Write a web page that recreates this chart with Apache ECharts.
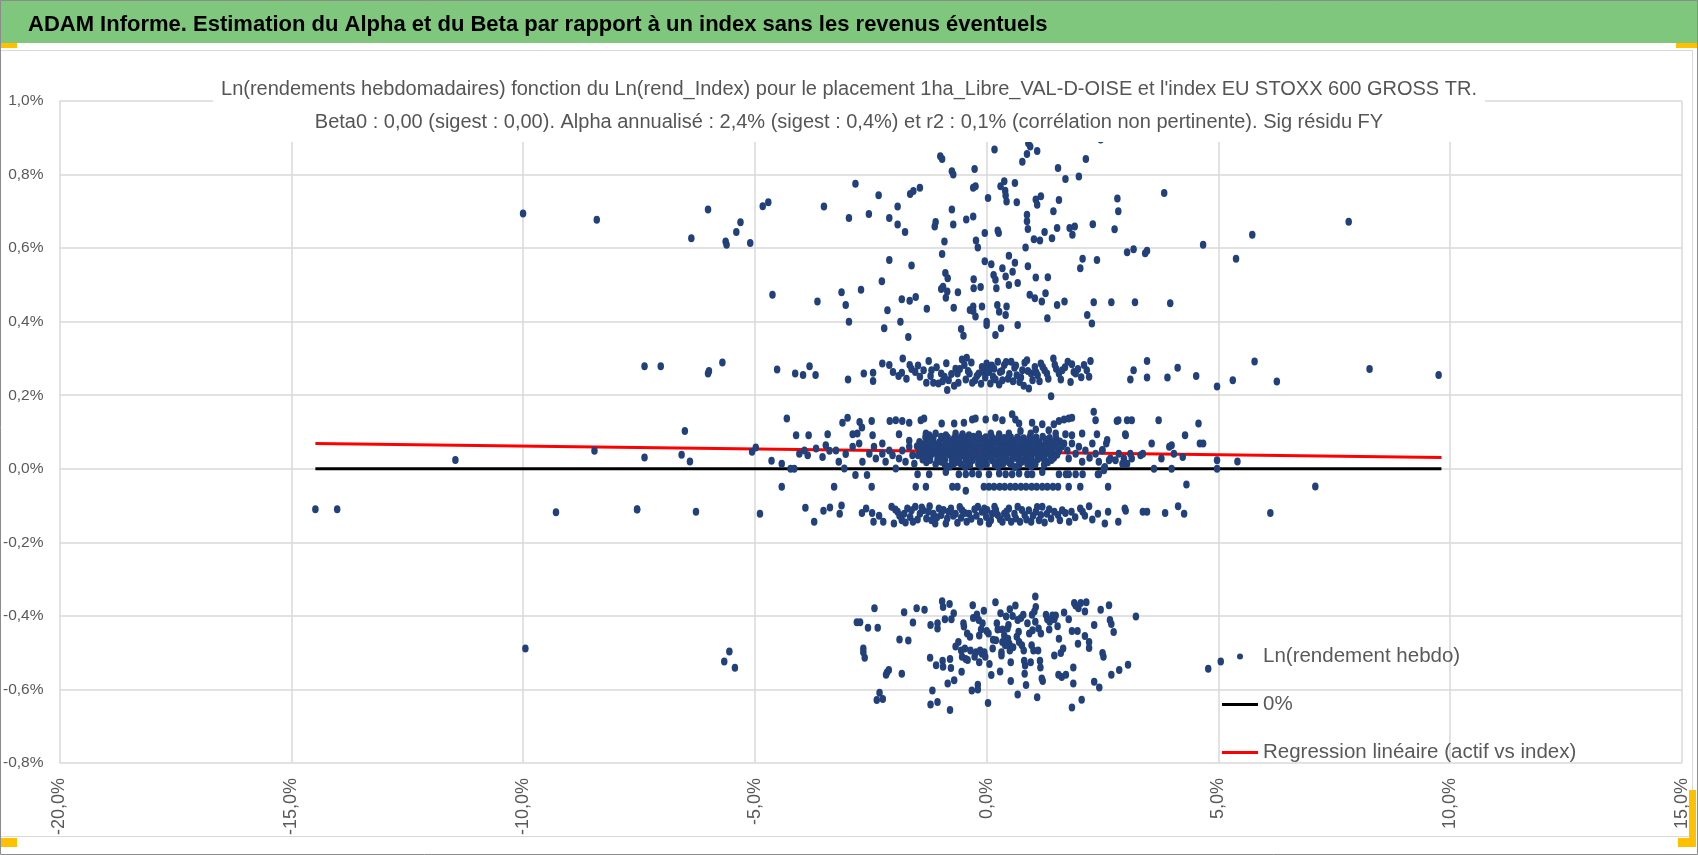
<!DOCTYPE html>
<html>
<head>
<meta charset="utf-8">
<script src="https://cdn.jsdelivr.net/npm/echarts@6/dist/echarts.min.js"></script>
<style>
html,body{margin:0;padding:0;background:#ffffff;}
#chart{width:1698px;height:855px;}
</style>
</head>
<body>
<div id="chart"></div>
<script>
// ---------------- text ----------------
const mainTitle = "ADAM Informe. Estimation du Alpha et du Beta par rapport à un index sans les revenus éventuels";
const subTitleLines = [
  "Ln(rendements hebdomadaires) fonction du Ln(rend_Index) pour le placement 1ha_Libre_VAL-D-OISE et l'index EU STOXX 600 GROSS TR.",
  "Beta0 : 0,00 (sigest : 0,00). Alpha annualisé : 2,4% (sigest : 0,4%) et r2 : 0,1% (corrélation non pertinente). Sig résidu FY"
];
const seriesNames = ["Ln(rendement hebdo)", "0%", "Regression linéaire (actif vs index)"];

// ---------------- axes (values in %) ----------------
const xAxisMin = -20, xAxisMax = 15, xAxisStep = 5;
const yAxisMin = -0.8, yAxisMax = 1.0, yAxisStep = 0.2;

// ---------------- lines ----------------
const zeroLine = [[-14.48, 0], [9.81, 0]];
const regressionLine = [[-14.48, 0.069], [9.81, 0.031]];

// ---------------- scatter: weekly log returns [index %, asset %] ----------------
const outliers = [
  [-14.48,-0.110],[-14.01,-0.110],[-11.46,0.024],[-10.00,0.694],[-9.95,-0.489],[-9.29,-0.118],
  [-8.46,0.049],[-7.54,-0.110],[-7.38,0.031],[-6.58,0.038],[-6.51,0.103],[-6.40,0.020],[-6.27,-0.117],
  [-5.66,-0.524],[-5.55,-0.497],[-5.43,-0.541],[-4.89,-0.122],
  [6.26,0.237],[8.26,0.271],[9.75,0.255],[5.41,0.020],[7.09,-0.048],[6.12,-0.120],[7.81,0.672],
  [4.78,-0.544],[5.05,-0.524]
];

const upperBand = [
  [-8.41,0.677],[-6.01,0.705],[-6.37,0.627],[-5.63,0.618],[-5.61,0.609],[-5.40,0.644],[-5.31,0.670],
  [-5.10,0.614],[-4.83,0.714],[-4.71,0.725],[-4.62,0.473],[-3.65,0.455],[-3.51,0.713],[-3.13,0.480],
  [-3.04,0.445],[-2.97,0.682],[-2.97,0.400],[-2.83,0.775],[-2.71,0.487],[-2.54,0.693],[-2.33,0.744],
  [-2.26,0.510],[-2.14,0.431],[-2.21,0.382],[-2.10,0.682],[-2.10,0.568],[-1.92,0.713],[-1.92,0.664],
  [-1.86,0.400],[-1.83,0.461],[-1.76,0.644],[-1.69,0.358],[-1.66,0.457],[-1.65,0.747],[-1.58,0.755],
  [-1.44,0.764],[-1.62,0.553],[-1.53,0.467],[-1.29,0.435],[-1.12,0.659],[-1.10,0.671],[-1.00,0.850],
  [-0.96,0.842],[-0.96,0.584],[-0.94,0.495],[-0.98,0.489],[-0.91,0.618],[-0.89,0.532],[-0.84,0.518],
  [-0.88,0.465],[-0.85,0.482],[-0.75,0.809],[-0.72,0.800],[-0.75,0.705],[-0.72,0.664],[-0.71,0.438],
  [-0.62,0.480],[-0.55,0.380],[-0.50,0.362],[-0.44,0.678],[-0.36,0.432],[-0.29,0.686],[-0.29,0.764],
  [-0.24,0.768],[-0.26,0.815],[-0.28,0.515],[-0.28,0.491],[-0.29,0.441],[-0.29,0.429],[-0.24,0.414],
  [-0.23,0.621],[-0.19,0.602],[-0.13,0.494],[-0.10,0.441],[-0.04,0.564],[-0.04,0.641],[0.00,0.400],
  [0.00,0.391],[0.03,0.736],[0.10,0.556],[0.17,0.868],[0.15,0.527],[0.19,0.514],[0.19,0.364],
  [0.21,0.491],[0.24,0.648],[0.26,0.641],[0.23,0.445],[0.27,0.427],[0.30,0.768],[0.31,0.382],
  [0.34,0.545],[0.38,0.782],[0.40,0.756],[0.41,0.743],[0.43,0.727],[0.41,0.523],[0.43,0.441],
  [0.41,0.418],[0.48,0.579],[0.48,0.500],[0.56,0.536],[0.61,0.560],[0.61,0.777],[0.65,0.725],
  [0.67,0.505],[0.67,0.391],[0.77,0.835],[0.84,0.602],[0.87,0.856],[0.87,0.691],[0.87,0.673],
  [0.89,0.652],[0.89,0.551],[0.90,0.885],[0.94,0.876],[0.93,0.473],[1.04,0.464],[1.02,0.624],
  [1.06,0.732],[1.09,0.718],[1.09,0.864],[1.06,0.520],[1.17,0.741],[1.15,0.621],[1.19,0.455],
  [1.25,0.644],[1.27,0.477],[1.31,0.409],[1.32,0.521],[1.41,0.627],[1.44,0.700],[1.52,0.655],
  [1.54,0.818],[1.56,0.731],[1.52,0.445],[1.68,0.455],[1.70,0.788],[1.79,0.655],[1.85,0.636],
  [1.90,0.659],[1.99,0.795],[2.02,0.545],[2.07,0.571],[2.14,0.842],[2.17,0.418],[2.27,0.395],
  [2.29,0.665],[2.31,0.453],[2.38,0.568],[2.46,0.895],[2.69,0.453],[2.76,0.651],[2.82,0.735],
  [2.84,0.700],[3.03,0.589],[3.17,0.597],[3.20,0.453],[3.42,0.586],[3.46,0.593],[3.83,0.750],
  [3.96,0.450],[4.67,0.609],[5.38,0.571],[5.73,0.636]
];

const band25 = [
  [-7.38,0.279],[-7.03,0.279],[-6.01,0.259],[-5.99,0.266],[-5.70,0.289],[-4.52,0.270],[-4.13,0.259],
  [-3.96,0.255],[-3.82,0.279],[-3.69,0.255],[-2.99,0.243],[-2.65,0.259],[-2.45,0.261],[-2.45,0.239],
  [-2.25,0.286],[-2.10,0.282],[-1.90,0.252],[-1.83,0.261],[-1.73,0.245],[-1.66,0.282],[-1.81,0.300],
  [-1.54,0.263],[-1.44,0.250],[-1.30,0.234],[-1.25,0.293],[-1.19,0.268],[-1.15,0.234],[-1.04,0.232],
  [-0.98,0.259],[-0.91,0.250],[-0.85,0.214],[-0.82,0.241],[-0.67,0.272],[-0.63,0.259],[-0.61,0.234],
  [-0.53,0.297],[-0.48,0.282],[-0.43,0.302],[-0.37,0.259],[-0.31,0.234],[-0.25,0.241],[-0.17,0.259],
  [-0.10,0.277],[-0.06,0.263],[0.00,0.286],[0.05,0.263],[0.08,0.232],[0.14,0.250],[0.16,0.272],
  [0.24,0.291],[0.29,0.263],[0.34,0.241],[0.38,0.282],[0.46,0.245],[0.53,0.291],[0.60,0.275],
  [0.65,0.254],[0.71,0.236],[0.77,0.268],[0.82,0.288],[0.87,0.295],[0.91,0.218],[0.96,0.259],
  [1.04,0.277],[1.10,0.254],[1.17,0.286],[1.25,0.268],[1.30,0.259],[1.39,0.197],[1.44,0.300],
  [1.50,0.272],[1.56,0.259],[1.63,0.268],[1.75,0.291],[1.81,0.236],[1.88,0.263],[1.92,0.259],
  [2.10,0.282],[2.16,0.268],[2.21,0.250],[2.24,0.293],[3.10,0.243],[3.17,0.268],[3.46,0.293],
  [3.46,0.248],[3.90,0.248],[4.12,0.275],[4.52,0.252],[4.97,0.224],[5.31,0.241],[5.78,0.292],
  [-1.48,0.281],[-1.36,0.268],[-1.21,0.252],[-1.08,0.276],[-0.95,0.238],[-0.87,0.287],[-0.76,0.258],
  [-0.70,0.226],[-0.58,0.271],[-0.45,0.243],[-0.40,0.266],[-0.33,0.289],[-0.21,0.252],[-0.12,0.231],
  [-0.03,0.248],[0.02,0.270],[0.11,0.281],[0.19,0.243],[0.27,0.229],[0.33,0.266],[0.42,0.290],
  [0.49,0.258],[0.57,0.238],[0.63,0.281],[0.74,0.248],[0.80,0.226],[0.89,0.266],[0.99,0.241],
  [1.07,0.262],[1.14,0.238],[1.21,0.277],[1.33,0.245],[1.47,0.283],[1.60,0.243],[1.69,0.276],
  [1.84,0.284],[1.97,0.271],[2.04,0.249],[-1.62,0.271],[-2.02,0.263]
];

const coreEdges = [
  [-5.06,0.046],[-4.98,0.058],[-4.64,0.022],[-4.42,0.014],[-4.31,0.137],[-4.23,0.000],[-4.15,0.000],
  [-4.11,0.091],[-4.04,0.041],
  [-3.11,0.125],[-3.00,0.139],[-2.74,0.127],[-2.69,0.112],[-2.48,0.130],[-2.09,0.130],[-1.96,0.132],
  [-1.82,0.130],[-1.67,0.125],[-1.42,0.132],[-1.35,0.137],[-0.97,0.123],[-0.70,0.123],[-0.49,0.125],
  [-0.31,0.134],[-0.24,0.137],[-0.02,0.134],[0.19,0.139],[0.34,0.132],[0.55,0.148],[0.62,0.134],
  [0.70,0.123],[0.98,0.125],[1.20,0.121],[1.45,0.121],[1.56,0.130],[1.67,0.134],[1.77,0.137],
  [1.84,0.139],[2.31,0.155],[2.35,0.132],[2.81,0.130],[3.03,0.132],
  [-3.84,0.091],[-3.43,0.094],[-2.89,0.094],[-2.79,0.096],[-2.46,0.091],[-2.25,0.069],[-1.89,0.094],
  [-1.67,0.076],[-1.31,0.096],[-1.24,0.091],[-1.10,0.096],[-0.88,0.091],[-0.67,0.096],[-0.52,0.094],
  [-0.38,0.091],[-0.17,0.094],[0.09,0.096],[0.27,0.094],[0.48,0.096],[0.73,0.103],[0.95,0.096],
  [1.06,0.107],[1.34,0.105],[1.49,0.096],[1.70,0.094],[1.84,0.091],[2.06,0.096],[2.38,0.094],[2.99,0.094],
  [-3.93,0.050],[-3.86,0.037],[-3.68,0.055],[-3.54,0.032],[-3.47,0.064],[-3.39,0.049],[-3.25,0.050],
  [-3.19,0.019],[-3.07,0.001],[-3.04,0.040],[-2.89,0.060],[-2.75,0.069],[-2.68,0.019],[-2.53,0.041],
  [-2.43,0.060],[-2.39,0.028],[-2.25,0.041],[-2.18,0.019],[-2.10,0.050],[-2.03,0.037],[-1.96,0.001],
  [-1.89,0.028],[-1.82,0.050],[-1.75,0.019],[-1.67,0.060],[-1.60,0.037],[-1.56,0.014],
  [1.67,0.069],[1.74,0.050],[1.77,0.028],[1.84,0.069],[1.92,0.041],[1.99,0.060],[2.06,0.019],
  [2.13,0.050],[2.22,0.030],[2.28,0.069],[2.35,0.041],[2.42,0.019],[2.49,0.050],[2.53,0.001],
  [2.58,0.069],[2.67,0.028],[2.78,0.023],[2.85,0.041],[2.96,0.028],[3.03,0.014],[3.10,0.041],
  [2.50,0.051],[2.60,0.078],[3.00,0.091],[2.93,0.014],[2.84,0.132],
  [3.13,0.132],[3.13,0.028],[3.32,0.037],[3.37,0.041],[3.56,0.069],[3.61,0.000],[3.71,0.132],
  [3.77,0.028],[3.94,0.060],[3.99,0.064],[3.99,0.000],[4.04,0.041],[4.23,0.032],[4.28,0.091],
  [4.57,0.123],[4.60,0.069],[4.67,0.069],[4.97,0.023],[4.97,0.000]
];

const coreBlob = [
  [-1.32,0.086],[-1.15,0.084],[-0.98,0.087],[-0.84,0.085],[-0.70,0.083],[-0.55,0.086],[-0.42,0.085],
  [-0.28,0.087],[-0.15,0.084],[-0.02,0.086],[0.12,0.085],[0.26,0.087],[0.38,0.084],[0.52,0.086],
  [0.66,0.085],[0.80,0.083],[0.93,0.086],[1.07,0.085],[1.21,0.087],[1.36,0.084],[1.50,0.082],
  [-1.45,0.073],[-1.30,0.071],[-1.16,0.074],[-1.02,0.072],[-0.88,0.073],[-0.74,0.075],[-0.61,0.072],
  [-0.47,0.073],[-0.33,0.071],[-0.20,0.074],[-0.07,0.073],[0.06,0.072],[0.19,0.074],[0.33,0.073],
  [0.46,0.071],[0.60,0.074],[0.73,0.072],[0.87,0.073],[1.00,0.075],[1.14,0.072],[1.28,0.073],
  [1.42,0.071],[1.58,0.074],
  [-1.50,0.061],[-1.36,0.060],[-1.22,0.062],[-1.08,0.061],[-0.95,0.059],[-0.81,0.062],[-0.67,0.061],
  [-0.54,0.060],[-0.40,0.062],[-0.27,0.061],[-0.13,0.059],[0.00,0.061],[0.13,0.062],[0.27,0.060],
  [0.40,0.061],[0.54,0.062],[0.67,0.060],[0.81,0.061],[0.94,0.059],[1.08,0.062],[1.21,0.061],
  [1.35,0.060],[1.49,0.062],[1.62,0.060],
  [-1.43,0.049],[-1.29,0.050],[-1.15,0.048],[-1.01,0.049],[-0.88,0.051],[-0.74,0.048],[-0.60,0.049],
  [-0.47,0.050],[-0.33,0.048],[-0.20,0.049],[-0.06,0.051],[0.07,0.049],[0.20,0.048],[0.34,0.050],
  [0.47,0.049],[0.61,0.048],[0.74,0.050],[0.88,0.049],[1.01,0.051],[1.15,0.048],[1.28,0.049],
  [1.42,0.050],[1.56,0.048],
  [-1.48,0.037],[-1.34,0.036],[-1.20,0.038],[-1.06,0.037],[-0.92,0.035],[-0.79,0.038],[-0.65,0.037],
  [-0.51,0.036],[-0.38,0.038],[-0.24,0.037],[-0.10,0.035],[0.03,0.037],[0.16,0.038],[0.30,0.036],
  [0.43,0.037],[0.57,0.038],[0.70,0.036],[0.84,0.037],[0.97,0.035],[1.11,0.038],[1.24,0.037],
  [1.38,0.036],[1.52,0.038],
  [-1.38,0.025],[-1.22,0.024],[-1.06,0.026],[-0.90,0.025],[-0.75,0.023],[-0.60,0.026],[-0.45,0.025],
  [-0.30,0.024],[-0.16,0.026],[-0.02,0.025],[0.12,0.023],[0.26,0.026],[0.40,0.025],[0.54,0.024],
  [0.68,0.026],[0.82,0.025],[0.96,0.023],[1.10,0.026],[1.25,0.025],[1.40,0.024],
  [-1.10,0.012],[-0.90,0.011],[-0.72,0.013],[-0.55,0.012],[-0.36,0.010],[-0.18,0.013],[0.00,0.012],
  [0.18,0.011],[0.35,0.013],[0.52,0.012],[0.70,0.010],[0.88,0.013],[1.05,0.012],[1.24,0.011],
  [-1.24,0.079],[-0.91,0.080],[-0.62,0.078],[-0.35,0.079],[-0.08,0.080],[0.19,0.078],[0.45,0.079],
  [0.73,0.080],[1.00,0.078],[1.29,0.079],
  [-1.38,0.067],[-1.09,0.066],[-0.81,0.068],[-0.54,0.067],[-0.26,0.066],[0.00,0.068],[0.26,0.067],
  [0.53,0.066],[0.80,0.068],[1.07,0.067],[1.35,0.066],
  [-1.29,0.055],[-1.01,0.054],[-0.74,0.056],[-0.47,0.055],[-0.20,0.054],[0.07,0.056],[0.34,0.055],
  [0.61,0.054],[0.88,0.056],[1.15,0.055],[1.42,0.054],
  [-1.36,0.043],[-1.08,0.042],[-0.81,0.044],[-0.54,0.043],[-0.27,0.042],[0.00,0.044],[0.27,0.043],
  [0.54,0.042],[0.81,0.044],[1.08,0.043],[1.35,0.042],
  [-1.27,0.031],[-0.99,0.030],[-0.72,0.032],[-0.44,0.031],[-0.17,0.030],[0.10,0.032],[0.37,0.031],
  [0.64,0.030],[0.91,0.032],[1.18,0.031],[1.45,0.030],
  [-1.30,0.018],[-0.98,0.019],[-0.67,0.017],[-0.38,0.018],[-0.09,0.019],[0.20,0.017],[0.48,0.018],
  [0.76,0.019],[1.03,0.017],[1.32,0.018],
  [-0.80,0.006],[-0.46,0.005],[-0.12,0.007],[0.25,0.006],[0.61,0.005],[0.96,0.007]
];

const nearZeroNeg = [
  [-2.83,-0.017],[-2.58,-0.017],[-1.49,-0.015],[-1.24,-0.015],[-0.88,-0.009],[-0.60,-0.015],
  [-0.45,-0.015],[-0.31,-0.013],[-0.17,-0.015],[0.05,-0.015],[0.27,-0.013],[0.41,-0.015],
  [0.55,-0.015],[0.70,-0.013],[0.88,-0.015],[0.98,-0.015],[1.20,-0.009],[1.56,-0.015],
  [1.71,-0.015],[1.77,-0.015],[1.92,-0.015],[2.07,-0.015],[2.40,-0.015],[2.42,-0.015],
  [2.53,-0.004],[2.55,0.005],[2.64,0.023],
  [-4.42,-0.049],[-3.29,-0.049],[-2.48,-0.049],[-1.53,-0.049],[-1.31,-0.049],[-0.74,-0.049],
  [-0.63,-0.049],[-0.45,-0.060],[-0.06,-0.049],[0.05,-0.049],[0.16,-0.049],[0.28,-0.049],
  [0.39,-0.049],[0.51,-0.049],[0.62,-0.049],[0.74,-0.049],[0.85,-0.049],[0.97,-0.049],
  [1.08,-0.049],[1.20,-0.049],[1.31,-0.049],[1.43,-0.049],[1.54,-0.049],[1.77,-0.049],
  [2.02,-0.049],[2.62,-0.049],[4.31,-0.043]
];

const bandMinus10 = [
  [-7.54,-0.111],[-3.91,-0.106],[-3.72,-0.144],[-3.52,-0.114],[-3.38,-0.105],[-3.13,-0.100],
  [-3.17,-0.122],[-2.69,-0.120],[-2.47,-0.120],[-2.44,-0.144],[-2.23,-0.144],[-2.05,-0.103],
  [-1.97,-0.111],[-1.92,-0.117],[-2.00,-0.149],[-1.83,-0.140],[-1.78,-0.122],[-1.71,-0.108],
  [-1.65,-0.131],[-1.59,-0.144],[-1.54,-0.103],[-1.44,-0.122],[-1.37,-0.113],[-1.30,-0.135],
  [-1.23,-0.102],[-1.15,-0.122],[-1.11,-0.149],[-1.03,-0.108],[-0.98,-0.126],[-0.88,-0.149],
  [-0.82,-0.117],[-0.77,-0.108],[-0.67,-0.122],[-0.63,-0.147],[-0.53,-0.113],[-0.43,-0.144],
  [-0.38,-0.122],[-0.19,-0.103],[-0.14,-0.144],[-0.10,-0.117],[-0.05,-0.108],[0.05,-0.149],
  [0.12,-0.122],[0.17,-0.103],[0.24,-0.126],[0.34,-0.144],[0.38,-0.122],[0.48,-0.108],
  [0.53,-0.144],[0.60,-0.122],[0.67,-0.103],[0.72,-0.144],[0.82,-0.126],[0.91,-0.113],
  [0.96,-0.144],[1.06,-0.117],[1.13,-0.140],[1.20,-0.103],[1.30,-0.122],[1.39,-0.135],
  [1.54,-0.126],[1.63,-0.113],[1.78,-0.144],[1.83,-0.117],[2.02,-0.108],[2.07,-0.117],
  [2.21,-0.102],[2.40,-0.122],[2.55,-0.149],[2.62,-0.117],[2.84,-0.144],[2.98,-0.108],
  [3.00,-0.114],[3.37,-0.117],[3.46,-0.117],[3.85,-0.120],[4.13,-0.102],[4.26,-0.122],
  [-1.88,-0.128],[-1.75,-0.146],[-1.62,-0.113],[-1.49,-0.138],[-1.40,-0.105],[-1.26,-0.117],
  [-1.19,-0.140],[-1.07,-0.132],[-0.93,-0.112],[-0.85,-0.135],[-0.72,-0.128],[-0.58,-0.104],
  [-0.55,-0.133],[-0.47,-0.120],[-0.33,-0.136],[-0.26,-0.110],[-0.22,-0.128],[-0.01,-0.131],
  [0.01,-0.112],[0.09,-0.140],[0.20,-0.112],[0.29,-0.137],[0.43,-0.116],[0.45,-0.132],
  [0.63,-0.135],[0.76,-0.112],[0.86,-0.138],[1.00,-0.128],[1.09,-0.104],[1.17,-0.126],
  [1.25,-0.146],[1.35,-0.110],[1.46,-0.117],[1.58,-0.140],[1.70,-0.120],[1.91,-0.132],
  [2.12,-0.128],[2.28,-0.138],[-2.32,-0.128],[-2.60,-0.108]
];

const lowBand = [
  [-2.80,-0.417],[-2.73,-0.417],[-2.56,-0.432],[-2.42,-0.379],[-2.35,-0.432],[-2.66,-0.489],
  [-2.66,-0.499],[-2.63,-0.514],[-2.31,-0.609],[-2.37,-0.629],[-2.24,-0.626],[-2.15,-0.554],
  [-2.11,-0.547],[-2.17,-0.560],[-1.88,-0.464],[-1.83,-0.557],[-1.78,-0.390],[-1.69,-0.467],
  [-1.59,-0.418],[-1.51,-0.379],[-1.34,-0.383],[-1.22,-0.514],[-1.21,-0.425],[-1.17,-0.603],
  [-1.21,-0.641],[-1.09,-0.534],[-1.06,-0.420],[-1.06,-0.434],[-1.06,-0.634],[-0.96,-0.360],
  [-0.94,-0.376],[-0.95,-0.522],[-0.94,-0.538],[-0.90,-0.409],[-0.84,-0.584],[-0.80,-0.368],
  [-0.79,-0.517],[-0.77,-0.542],[-0.79,-0.656],[-0.76,-0.409],[-0.71,-0.393],[-0.70,-0.575],
  [-0.67,-0.483],[-0.61,-0.471],[-0.54,-0.552],[-0.55,-0.494],[-0.53,-0.511],[-0.50,-0.420],
  [-0.49,-0.429],[-0.47,-0.489],[-0.45,-0.517],[-0.42,-0.448],[-0.41,-0.520],[-0.36,-0.457],
  [-0.35,-0.494],[-0.32,-0.603],[-0.30,-0.371],[-0.29,-0.406],[-0.26,-0.511],[-0.23,-0.499],
  [-0.21,-0.396],[-0.19,-0.587],[-0.19,-0.600],[-0.17,-0.411],[-0.16,-0.453],[-0.16,-0.526],
  [-0.14,-0.494],[-0.12,-0.437],[-0.10,-0.503],[-0.09,-0.420],[-0.06,-0.386],[-0.05,-0.499],
  [-0.03,-0.511],[0.00,-0.441],[0.03,-0.637],[0.04,-0.448],[0.06,-0.531],[0.10,-0.561],
  [0.13,-0.489],[0.14,-0.465],[0.19,-0.363],[0.20,-0.466],[0.22,-0.420],[0.24,-0.437],
  [0.29,-0.551],[0.30,-0.393],[0.32,-0.499],[0.32,-0.508],[0.34,-0.471],[0.34,-0.437],
  [0.38,-0.453],[0.40,-0.480],[0.42,-0.402],[0.45,-0.434],[0.46,-0.462],[0.47,-0.425],
  [0.49,-0.476],[0.50,-0.382],[0.50,-0.494],[0.52,-0.526],[0.52,-0.577],[0.56,-0.400],
  [0.57,-0.485],[0.62,-0.372],[0.65,-0.457],[0.67,-0.411],[0.67,-0.614],[0.69,-0.443],
  [0.70,-0.471],[0.74,-0.406],[0.76,-0.480],[0.79,-0.397],[0.80,-0.494],[0.81,-0.522],
  [0.82,-0.557],[0.83,-0.535],[0.85,-0.588],[0.88,-0.420],[0.92,-0.448],[0.95,-0.526],
  [0.97,-0.480],[0.98,-0.397],[0.99,-0.439],[1.01,-0.494],[1.03,-0.388],[1.05,-0.347],
  [1.05,-0.416],[1.06,-0.376],[1.09,-0.621],[1.11,-0.494],[1.12,-0.434],[1.15,-0.522],
  [1.16,-0.540],[1.17,-0.448],[1.19,-0.570],[1.21,-0.577],[1.28,-0.397],[1.31,-0.409],
  [1.35,-0.437],[1.36,-0.416],[1.42,-0.399],[1.46,-0.409],[1.46,-0.508],[1.49,-0.399],
  [1.53,-0.428],[1.55,-0.560],[1.56,-0.462],[1.60,-0.501],[1.62,-0.566],[1.65,-0.489],
  [1.67,-0.391],[1.71,-0.560],[1.77,-0.409],[1.84,-0.441],[1.84,-0.649],[1.87,-0.540],
  [1.87,-0.584],[1.89,-0.365],[1.92,-0.372],[1.96,-0.441],[1.97,-0.476],[1.98,-0.379],
  [2.03,-0.365],[2.05,-0.628],[2.12,-0.455],[2.12,-0.388],[2.15,-0.363],[2.21,-0.471],
  [2.21,-0.487],[2.32,-0.425],[2.32,-0.579],[2.43,-0.595],[2.46,-0.383],[2.50,-0.501],
  [2.52,-0.511],[2.64,-0.371],[2.66,-0.411],[2.69,-0.422],[2.69,-0.560],[2.74,-0.444],
  [2.86,-0.547],[3.05,-0.533],[3.22,-0.402]
];

// ---------------- styling ----------------
const baseFont = '"Liberation Sans", Arial, sans-serif';
const labelColor = '#595959';
const gridColor = '#d9d9d9';
const dotColor = '#22407a';
const lineIcon = 'path://M0,0H36V3H0Z';

const pct = v => (Math.abs(v) < 1e-9 ? 0 : v).toFixed(1).replace('.', ',') + '%';
const scatterData = [].concat(outliers, upperBand, band25, coreEdges, coreBlob, nearZeroNeg, bandMinus10, lowBand);

const chart = echarts.init(document.getElementById('chart'), null, { renderer: 'canvas' });
chart.setOption({
  animation: false,
  backgroundColor: '#ffffff',
  graphic: [
    { type: 'rect', z: -10, shape: { x: 0, y: 0, width: 1698, height: 43 }, style: { fill: '#80c77e' } },
    { type: 'rect', z: -10, shape: { x: 0.5, y: 50.5, width: 1692, height: 786 }, style: { fill: 'none', stroke: '#d9d9d9', lineWidth: 1 } },
    { type: 'rect', z: 100, shape: { x: 0.5, y: 0.5, width: 1697, height: 854 }, style: { fill: 'none', stroke: '#8c8c8c', lineWidth: 1 } },
    { type: 'rect', z: 100, shape: { x: 1, y: 43, width: 16, height: 5 }, style: { fill: '#ffc000' } },
    { type: 'rect', z: 100, shape: { x: 1, y: 838, width: 16, height: 9 }, style: { fill: '#ffc000' } },
    { type: 'rect', z: 100, shape: { x: 1676, y: 43, width: 21, height: 5 }, style: { fill: '#ffc000' } },
    { type: 'rect', z: 100, shape: { x: 1689, y: 790, width: 7, height: 57 }, style: { fill: '#ffc000' } },
    { type: 'rect', z: 100, shape: { x: 1678, y: 838, width: 18, height: 9 }, style: { fill: '#ffc000' } }
  ],
  title: [
    {
      text: mainTitle, left: 23, top: 5,
      textStyle: { fontFamily: baseFont, fontSize: 22, fontWeight: 'bold', color: '#000000', lineHeight: 30 }
    },
    {
      text: subTitleLines.join('\n'), left: 'center', top: 70,
      backgroundColor: '#ffffff', padding: [3, 8],
      textStyle: { fontFamily: baseFont, fontSize: 20, fontWeight: 'normal', color: '#555555', lineHeight: 33 }
    }
  ],
  legend: {
    orient: 'vertical', left: 1217, top: 641,
    itemWidth: 36, itemHeight: 6, itemGap: 27, itemTextGap: 4,
    selectedMode: false,
    textStyle: { fontFamily: baseFont, fontSize: 20.5, color: labelColor },
    data: [
      { name: seriesNames[0], icon: 'circle' },
      { name: seriesNames[1], icon: lineIcon },
      { name: seriesNames[2], icon: lineIcon }
    ]
  },
  grid: { left: 56, right: 16, top: 101, bottom: 92, containLabel: false },
  xAxis: {
    type: 'value', min: xAxisMin, max: xAxisMax, interval: xAxisStep,
    axisLine: { show: false }, axisTick: { show: false },
    splitLine: { show: true, lineStyle: { color: gridColor, width: 1.5 } },
    axisLabel: { rotate: 90, margin: 15, formatter: pct, fontFamily: baseFont, fontSize: 18, color: labelColor }
  },
  yAxis: {
    type: 'value', min: yAxisMin, max: yAxisMax, interval: yAxisStep,
    axisLine: { show: false }, axisTick: { show: false },
    splitLine: { show: true, lineStyle: { color: gridColor, width: 1.5 } },
    axisLabel: { margin: 16, formatter: pct, fontFamily: baseFont, fontSize: 15.5, color: labelColor }
  },
  series: [
    {
      name: seriesNames[1], type: 'line', data: zeroLine, symbol: 'none',
      lineStyle: { color: '#000000', width: 3 }, itemStyle: { color: '#000000' }, z: 2
    },
    {
      name: seriesNames[2], type: 'line', data: regressionLine, symbol: 'none',
      lineStyle: { color: '#ff0000', width: 3 }, itemStyle: { color: '#ff0000' }, z: 2
    },
    {
      name: seriesNames[0], type: 'scatter', data: scatterData, symbol: 'circle', symbolSize: [6.5, 8],
      itemStyle: { color: dotColor, opacity: 1 }, z: 3
    }
  ]
});
</script>
</body>
</html>
